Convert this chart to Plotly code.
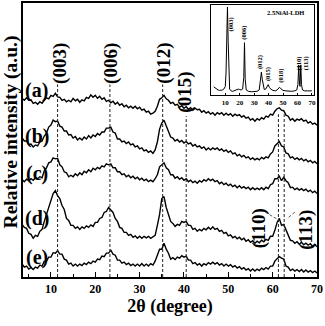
import numpy as np
import plotly.graph_objects as go

# XRD patterns (0.5 degree steps, arbitrary intensity units)
TWO_THETA = np.arange(3.5, 70.01, 0.5)

CURVE_A = [
    183, 181, 183.5, 181, 181.5, 178, 179, 177, 179.5, 178,
    181, 183.5, 182.5, 186, 185, 188, 184.5, 184, 181, 182,
    179.5, 181, 179.5, 183, 180.5, 182, 179, 181.5, 180.5, 184,
    183, 186.5, 184, 186, 183, 185, 182, 183.5, 180, 181,
    178.5, 180, 177, 179, 176, 177.5, 174.5, 176, 173.5, 175,
    173, 175, 172.5, 174, 171, 172, 169, 170, 167, 168,
    170, 175, 182, 183.5, 186, 182.5, 181, 178, 179, 176,
    177, 174, 175.5, 173, 174.5, 172, 173.5, 171, 173, 171.5,
    172, 169, 170.5, 168, 169.5, 167, 168.5, 166, 168.5, 167,
    168.5, 166, 168, 166, 167.5, 165, 167, 165.5, 166.5, 164,
    165.5, 163, 164, 161, 162.5, 160, 162.5, 161, 163.5, 162,
    165, 164, 167, 166, 170, 172.5, 173.5, 171, 170.5, 166,
    165, 161, 162.5, 160, 162, 161, 162.5, 160, 161, 158,
    159.5, 157, 158, 156,
]
CURVE_B = [
    143, 140, 140, 136.5, 137, 134, 136, 135, 139, 140,
    145, 148, 154, 156, 161, 159.5, 160, 155, 154, 150,
    150, 146, 146.5, 143, 144.5, 141, 143, 141, 144, 142,
    145.5, 143, 146, 144.5, 147.5, 146, 149, 149, 153, 153,
    154, 149, 148, 142, 142, 139, 140, 137.5, 139, 136,
    137, 134, 135, 132, 133, 130, 131, 128.5, 130, 127.5,
    131, 139, 152, 158, 161, 155, 151, 144, 143, 140,
    141.5, 139, 140.5, 138, 139.5, 137, 138, 135, 136.5, 134,
    135, 132.5, 134, 131, 133, 131, 133, 131.5, 133, 130.5,
    132, 129.5, 131, 128.5, 130, 127, 128, 125, 126.5, 124,
    125.5, 123, 124, 121.5, 123, 121, 122.5, 121, 123.5, 122,
    124, 123, 127, 129, 135, 137, 139.5, 135, 134, 128,
    127, 123, 124, 121.5, 123, 121, 122.5, 120, 121.5, 119,
    120.5, 118, 119.5, 117,
]
CURVE_C = [
    101, 99, 101.5, 100, 102, 100.5, 103, 102, 104, 103,
    110, 113, 118, 119, 123, 122, 122.5, 116, 114, 109,
    108, 104, 105.5, 104, 107, 105, 108, 106, 109.5, 108,
    111, 109, 112.5, 111, 113.5, 112, 115, 114, 117, 116,
    117, 113, 113, 109, 109, 106, 107, 104, 105.5, 103,
    104.5, 102, 103.5, 101, 102.5, 100, 101.5, 99, 100.5, 99,
    102, 106, 114, 116, 118, 113, 111, 106, 106, 102.5,
    104, 101.5, 103, 100.5, 102, 99, 100.5, 98, 99.5, 97.5,
    100, 98.5, 101, 99.5, 102, 100, 101.5, 99, 100, 97,
    98.5, 96, 97.5, 95, 96.5, 94, 95.5, 93, 95, 92.5,
    94, 92, 93.5, 91, 93, 91, 92.5, 91, 93, 91,
    93.5, 92, 96, 97, 102, 102, 104.5, 100, 103.5, 100,
    98, 93, 93.5, 91, 92.5, 90.5, 92, 90, 91.5, 89,
    90.5, 88, 89.5, 87,
]
CURVE_D = [
    56, 53, 52, 47, 46, 42, 45, 44, 49, 51,
    59, 66, 75, 80, 87, 90, 85, 82, 75, 71,
    62, 60, 55, 55, 52, 53.5, 51, 53.5, 52, 54.5,
    53, 55.5, 54, 58, 58, 62, 63, 68, 69, 73,
    70, 68, 62, 59, 53, 52, 48, 48, 45, 46,
    43, 44.5, 42, 44, 42, 44, 42.5, 44, 42, 43.5,
    45, 55, 66, 82, 84, 73, 67, 59, 57, 54,
    56, 55, 59, 58, 59, 55, 55, 51, 52, 49,
    51, 49.5, 52, 50.5, 53, 51, 53.5, 51, 52, 49,
    50, 47, 48, 44.5, 45.5, 42.5, 44, 41.5, 43, 40.5,
    42, 39, 40.5, 38, 39.5, 37, 39, 37.5, 40, 38.5,
    41, 40, 44, 44, 50, 58, 62, 55, 56, 50,
    46, 40, 39.5, 37, 38.5, 36, 38, 35.5, 37, 35,
    36.5, 34, 36, 33.5,
]
CURVE_E = [
    16, 13, 14, 11, 12.5, 10.5, 13, 12, 15, 14,
    19, 19, 23, 23, 27.5, 27, 29.5, 26, 26, 21,
    20, 16, 17, 14, 16, 14, 16, 14.5, 17, 15.5,
    18, 16.5, 19, 18, 21, 20.5, 24, 23.5, 27, 27,
    30, 26, 25, 20, 20, 17, 18, 15.5, 17, 14.5,
    16, 14, 16, 14, 16.5, 14, 16, 14, 16.5, 15,
    19, 25, 31, 31, 37, 31, 27, 21, 22.5, 20.5,
    23, 22, 24.5, 23, 24, 20, 20, 16.5, 17.5, 15,
    16.5, 14, 16.5, 15, 17.5, 16, 18, 16, 17.5, 15,
    16.5, 14, 16, 14, 15.5, 13, 14.5, 12, 13.5, 11,
    12.5, 10, 11.5, 9, 11, 9, 11, 9.5, 12, 10.5,
    12.5, 11, 14, 14, 19, 21.5, 23.5, 22, 21, 14,
    13, 9.5, 11, 9, 10.5, 8.5, 10.5, 8, 10, 8,
    9.5, 7.5, 9, 7,
]
CURVES = [CURVE_A, CURVE_B, CURVE_C, CURVE_D, CURVE_E]
CURVE_NAMES = ["(a)", "(b)", "(c)", "(d)", "(e)"]
CURVE_LABEL_Y = [191, 145, 107, 62, 23]

# inset: 2.5NiAl-LDH reference pattern
INSET_X = [2, 3, 4, 5, 6, 7, 8, 9, 10, 10.5, 11, 11.5, 12, 12.5, 13, 14, 15, 16, 17,
           18, 19, 20, 21, 22, 22.8, 23.3, 23.8, 24.5, 26, 28, 30, 32, 33.5, 34.3,
           35, 35.6, 36.3, 37, 38, 39, 39.7, 40.5, 41.5, 43, 45, 46.5, 47.5, 48.5,
           50, 52, 54, 56, 58, 59.5, 60.3, 60.9, 61.4, 61.8, 62.3, 62.8, 63.5, 65,
           67, 69, 70]
INSET_Y = [9.5, 8, 7, 6, 5.5, 5.5, 6, 7, 10, 25, 70, 99, 60, 15, 7, 5, 4.5, 5, 5.5,
           6.5, 7, 6.5, 6, 7, 20, 59, 18, 6, 4.5, 4, 4, 4.5, 6, 15,
           26, 18, 9, 6.5, 7, 10, 12, 9, 7, 5.5, 5, 7, 9, 7.5,
           5.5, 5, 4.5, 4.5, 5, 6, 12, 34, 12, 10, 34, 12, 6, 5,
           5, 5.5, 5]
INSET_PEAKS = ["(003)", "(006)", "(012)", "(015)", "(018)", "(110)", "(113)"]
INSET_PEAK_X = [13.6, 22.9, 34.6, 39.7, 48.6, 61.2, 65.9]
INSET_PEAK_Y = [80, 70, 37, 24, 22, 36, 36]

# main reflections (label, 2theta of dashed guide, top of guide)
PEAK_NAMES = ["(003)", "(006)", "(012)", "(015)", "(110)", "(113)"]
PEAK_POS = [11.5, 23.3, 35.2, 40.5, 61.3, 62.6]
PEAK_TOP = [197, 197, 197, 165, 167, 167]
PEAK_LABEL_X = [11.9, 23.4, 35.3, 40.3, 56.9, 67.6]
PEAK_LABEL_Y = [218, 218, 218, 189, 52, 51]

X_TICKS = [10, 20, 30, 40, 50, 60, 70]

FONT = "Liberation Serif, Times New Roman, serif"

fig = go.Figure()

for ys in CURVES:
    fig.add_trace(go.Scatter(x=TWO_THETA, y=ys, mode="lines",
                             line=dict(color="black", width=1.4), showlegend=False))

for pos, top in zip(PEAK_POS, PEAK_TOP):
    fig.add_trace(go.Scatter(x=[pos, pos], y=[3, top], mode="lines",
                             line=dict(color="#222", width=1, dash="3px,2px"),
                             showlegend=False))

# leader lines for (110) and (113)
fig.add_trace(go.Scatter(x=[58.3, 60.9], y=[68.3, 61.7], mode="lines",
                         line=dict(color="#333", width=0.8, dash="3px,2px"), showlegend=False))
fig.add_trace(go.Scatter(x=[65.0, 63.2], y=[68.3, 61.7], mode="lines",
                         line=dict(color="#333", width=0.8, dash="3px,2px"), showlegend=False))

fig.add_trace(go.Scatter(x=INSET_X, y=INSET_Y, mode="lines", xaxis="x2", yaxis="y2",
                         line=dict(color="black", width=1), showlegend=False))

annotations = []
for name, ly in zip(CURVE_NAMES, CURVE_LABEL_Y):
    annotations.append(dict(x=6.8, y=ly, text=name, showarrow=False,
                            font=dict(family=FONT, size=20, color="black", weight="bold")))
for name, lx, ly in zip(PEAK_NAMES, PEAK_LABEL_X, PEAK_LABEL_Y):
    annotations.append(dict(x=lx, y=ly, text=name, showarrow=False, textangle=-90,
                            font=dict(family=FONT, size=19, color="black", weight="bold")))
for name, lx, ly in zip(INSET_PEAKS, INSET_PEAK_X, INSET_PEAK_Y):
    annotations.append(dict(x=lx, y=ly, xref="x2", yref="y2", text=name, showarrow=False,
                            textangle=-90,
                            font=dict(family=FONT, size=6.5, color="black", weight="bold")))
annotations.append(dict(x=52, y=93, xref="x2", yref="y2", text="2.5NiAl-LDH", showarrow=False,
                        font=dict(family=FONT, size=6.5, color="black", weight="bold")))
annotations.append(dict(x=-0.042, y=0.53, xref="paper", yref="paper",
                        xanchor="center", yanchor="middle",
                        text="Relative intensity (a.u.)", textangle=-90, showarrow=False,
                        font=dict(family=FONT, size=19.5, color="black", weight="bold")))

fig.update_layout(
    width=325, height=326,
    margin=dict(l=23, r=8, t=1, b=49),
    paper_bgcolor="white", plot_bgcolor="white",
    font=dict(family=FONT, color="black"),
    annotations=annotations,
    xaxis=dict(range=[3.7, 70], domain=[0, 1], tickvals=X_TICKS,
               ticks="inside", ticklen=5, tickwidth=1.3, tickcolor="black",
               minor=dict(dtick=5, tick0=5, ticks="inside", ticklen=3, tickcolor="black"),
               showline=True, linecolor="black", linewidth=1.6, mirror=True,
               showgrid=False, zeroline=False,
               tickfont=dict(family=FONT, size=12, color="black", weight="bold"),
               title=dict(text="2θ (degree)", standoff=3,
                          font=dict(family=FONT, size=18, color="black", weight="bold"))),
    yaxis=dict(range=[3, 279], domain=[0, 1], showticklabels=False, ticks="",
               showline=True, linecolor="black", linewidth=1.6, mirror=True,
               showgrid=False, zeroline=False),
    xaxis2=dict(range=[0, 71.5], domain=[0.639, 0.99], anchor="y2", tickvals=X_TICKS,
                ticks="inside", ticklen=2, tickcolor="black",
                showline=True, linecolor="black", linewidth=1.2, mirror=True,
                showgrid=False, zeroline=False, ticklabelstandoff=0,
                tickfont=dict(family=FONT, size=7, color="black", weight="bold")),
    yaxis2=dict(range=[0, 101], domain=[0.663, 0.992], anchor="x2", showticklabels=False,
                ticks="", showline=True, linecolor="black", linewidth=1.2, mirror=True,
                showgrid=False, zeroline=False),
)

fig.write_html("out.html", config={"displayModeBar": False},
               post_script="document.body.style.margin='0';")
